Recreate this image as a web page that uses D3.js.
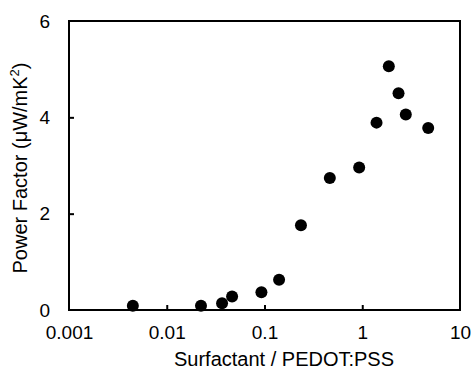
<!DOCTYPE html>
<html>
<head>
<meta charset="utf-8">
<script src="https://cdn.jsdelivr.net/npm/d3@7"></script>
<style>
  body { margin: 0; background: #fff; }
  text { font-family: "Liberation Sans", Arial, sans-serif; fill: #000; }
</style>
</head>
<body>
<svg id="chart" width="472" height="370"></svg>
<script>
// --- Data ---
const ratio = [0.0045, 0.0224, 0.0368, 0.0466, 0.093, 0.141, 0.236, 0.466, 0.93, 1.40, 1.87, 2.35, 2.79, 4.73];
const powerFactor = [0.09, 0.09, 0.14, 0.28, 0.37, 0.63, 1.76, 2.74, 2.96, 3.89, 5.06, 4.50, 4.06, 3.78];
const xTicks = [0.001, 0.01, 0.1, 1, 10];
const xTickLabels = ["0.001", "0.01", "0.1", "1", "10"];
const yTicks = [0, 2, 4, 6];

// --- Layout ---
const margin = { top: 21, right: 12, bottom: 60, left: 69 };
const svgWidth = 472, svgHeight = 370;
const width = svgWidth - margin.left - margin.right;
const height = svgHeight - margin.top - margin.bottom;

const svg = d3.select("#chart");
const g = svg.append("g").attr("transform", `translate(${margin.left},${margin.top})`);

// Scales
const x = d3.scaleLog().domain([0.001, 10]).range([0, width]);
const y = d3.scaleLinear().domain([0, 6]).range([height, 0]);

// Frame
g.append("rect")
    .attr("x", 0).attr("y", 0)
    .attr("width", width).attr("height", height)
    .attr("fill", "none")
    .attr("stroke", "#000")
    .attr("stroke-width", 2);

// Axes (ticks point inward)
const xAxis = g.append("g")
    .attr("transform", `translate(0,${height})`)
    .call(d3.axisBottom(x).tickValues(xTicks).tickFormat((d, i) => xTickLabels[i]).tickSize(-5).tickPadding(16));
const yAxis = g.append("g")
    .call(d3.axisLeft(y).tickValues(yTicks).tickFormat(d3.format("d")).tickSize(-5).tickPadding(19));

[xAxis, yAxis].forEach(a => {
    a.select(".domain").remove();
    a.selectAll("line").attr("stroke", "#000").attr("stroke-width", 2);
    a.selectAll("text").attr("font-size", "19px").attr("font-family", "Liberation Sans, Arial, sans-serif").attr("fill", "#000");
});
xAxis.selectAll("line").filter(d => d === 0.001 || d === 10).remove();
yAxis.selectAll("line").filter(d => d === 0 || d === 6).remove();

// Points
g.selectAll("circle.pt")
    .data(ratio.map((r, i) => ({ r, v: powerFactor[i] })))
    .enter().append("circle")
    .attr("class", "pt")
    .attr("cx", d => x(d.r))
    .attr("cy", d => y(d.v))
    .attr("r", 6)
    .attr("fill", "#000");

// Axis titles
g.append("text")
    .attr("x", 215)
    .attr("y", height + 56)
    .attr("text-anchor", "middle")
    .attr("font-size", "20px")
    .text("Surfactant / PEDOT:PSS");

const yTitle = g.append("text")
    .attr("transform", `translate(${-42},${147}) rotate(-90)`)
    .attr("text-anchor", "middle")
    .attr("font-size", "20px");
yTitle.append("tspan").text("Power Factor (μW/mK");
yTitle.append("tspan").attr("dy", -8).attr("font-size", "13px").text("2");
yTitle.append("tspan").attr("dy", 8).text(")");
</script>
</body>
</html>
